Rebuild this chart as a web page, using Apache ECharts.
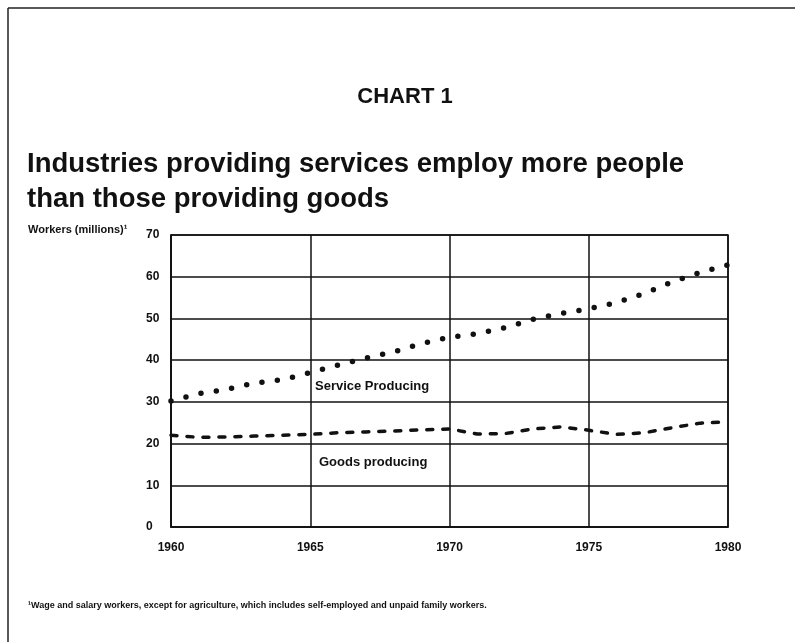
<!DOCTYPE html>
<html>
<head>
<meta charset="utf-8">
<script src="https://cdn.jsdelivr.net/npm/echarts@6/dist/echarts.min.js"></script>
<style>
  html, body { margin: 0; padding: 0; background: #fff; }
  #chart { width: 795px; height: 642px; }
</style>
</head>
<body>
<div id="chart"></div>
<script>
// years and values (millions of workers)
const years = [1960, 1961, 1962, 1963, 1964, 1965, 1966, 1967, 1968, 1969, 1970,
               1971, 1972, 1973, 1974, 1975, 1976, 1977, 1978, 1979, 1980];
const serviceProducing = [30.2, 32, 33, 34.5, 35.3, 37, 38.8, 40.5, 42, 44, 45.5,
                          46.3, 47.8, 49.8, 51.2, 52.3, 53.8, 56, 58.8, 61, 62.8];
const goodsProducing = [22, 21.5, 21.6, 21.8, 22, 22.2, 22.6, 22.8, 23, 23.3, 23.5,
                        22.3, 22.4, 23.5, 24, 23.2, 22.2, 22.6, 23.8, 24.9, 25.2];
const xTicks = [1960, 1965, 1970, 1975, 1980];
const yTicks = [0, 10, 20, 30, 40, 50, 60, 70];

const ink = '#111';
const font = "'Liberation Sans', Arial, Helvetica, sans-serif";

const chart = echarts.init(document.getElementById('chart'));

function pairs(vals) {
  return years.map((y, i) => [y, vals[i]]);
}

chart.setOption({
  backgroundColor: '#fff',
  animation: false,
  title: [
    {
      text: 'CHART 1',
      left: 400, top: 81, textAlign: 'center',
      textStyle: { fontFamily: font, fontSize: 22, fontWeight: 'bold', color: ink }
    },
    {
      text: 'Industries providing services employ more people\nthan those providing goods',
      left: 22, top: 142,
      textStyle: { fontFamily: font, fontSize: 27.5, fontWeight: 'bold', color: ink, lineHeight: 35 }
    },
    {
      text: 'Workers (millions)¹',
      left: 23, top: 219,
      textStyle: { fontFamily: font, fontSize: 11, fontWeight: 'bold', color: ink }
    },
    {
      text: '¹Wage and salary workers, except for agriculture, which includes self-employed and unpaid family workers.',
      left: 23, top: 596,
      textStyle: { fontFamily: font, fontSize: 9, fontWeight: 'bold', color: ink }
    }
  ],
  grid: {
    left: 171, right: 67, top: 235, bottom: 115,
    show: true, borderColor: ink, borderWidth: 1.5
  },
  xAxis: {
    type: 'value',
    min: xTicks[0], max: xTicks[xTicks.length - 1], interval: 5,
    axisLine: { show: true, lineStyle: { color: ink, width: 1.5 } },
    axisTick: { show: false },
    splitLine: { show: true, lineStyle: { color: ink, width: 1.5 } },
    axisLabel: {
      margin: 15, color: ink, fontFamily: font, fontSize: 12, fontWeight: 'bold',
      formatter: v => String(v)
    }
  },
  yAxis: {
    type: 'value',
    min: yTicks[0], max: yTicks[yTicks.length - 1], interval: 10,
    axisLine: { show: true, lineStyle: { color: ink, width: 1.5 } },
    axisTick: { show: false },
    splitLine: { show: true, lineStyle: { color: ink, width: 1.5 } },
    axisLabel: {
      margin: 25, align: 'left', color: ink, fontFamily: font, fontSize: 12, fontWeight: 'bold'
    }
  },
  series: [
    {
      name: 'Service Producing',
      type: 'line',
      data: pairs(serviceProducing),
      showSymbol: false,
      lineStyle: { color: ink, width: 5.5, type: [0, 15.5], cap: 'round' }
    },
    {
      name: 'Goods producing',
      type: 'line',
      data: pairs(goodsProducing),
      showSymbol: false,
      lineStyle: { color: ink, width: 3.5, type: [6, 10], cap: 'round' }
    }
  ],
  graphic: [
    { type: 'line', shape: { x1: 8, y1: 8, x2: 795, y2: 8 }, style: { stroke: '#222', lineWidth: 1.5 } },
    { type: 'line', shape: { x1: 8, y1: 8, x2: 8, y2: 642 }, style: { stroke: '#222', lineWidth: 1.5 } },
    {
      type: 'text', left: 315, top: 380,
      style: { text: 'Service Producing', fill: ink, font: 'bold 13px ' + font }
    },
    {
      type: 'text', left: 319, top: 456,
      style: { text: 'Goods producing', fill: ink, font: 'bold 13px ' + font }
    }
  ]
});
</script>
</body>
</html>
